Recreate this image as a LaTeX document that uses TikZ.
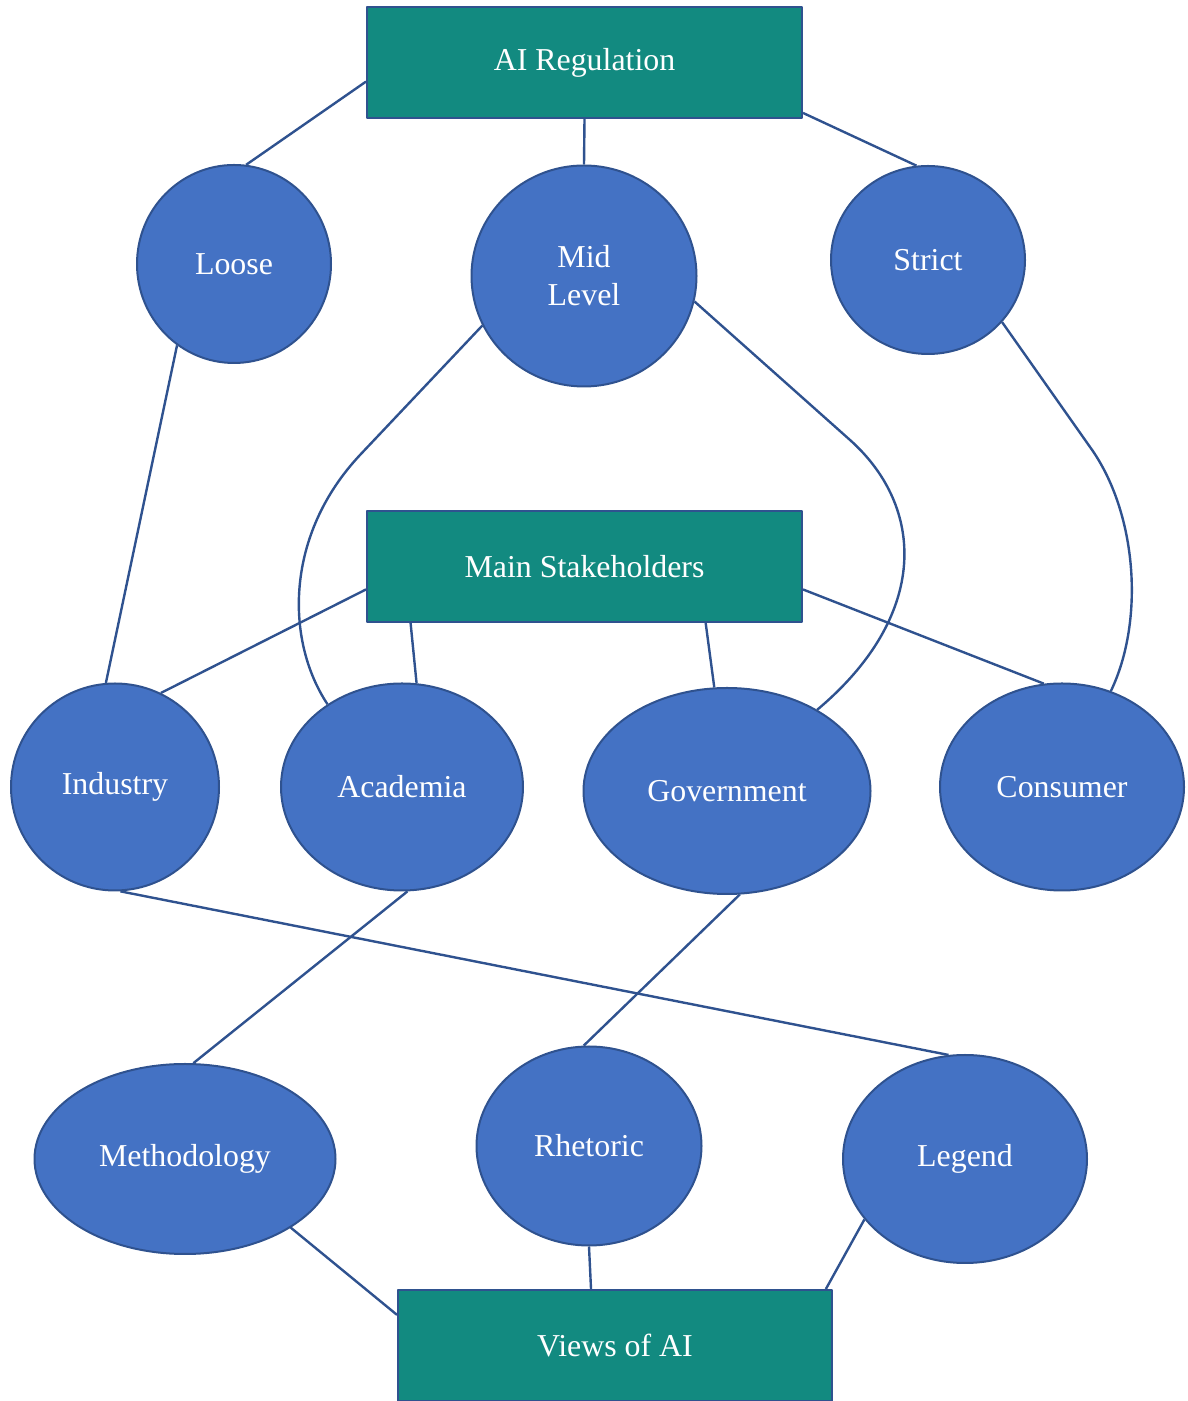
\documentclass[tikz,border=0pt]{standalone}
\usepackage{fontspec}
\setmainfont{Liberation Serif}
\usepackage{tikz}
\usetikzlibrary{shapes.geometric}
\definecolor{tealbox}{RGB}{18,138,128}
\definecolor{bluefill}{RGB}{68,114,196}
\definecolor{blueline}{RGB}{47,82,143}
\begin{document}
\begin{tikzpicture}[line join=round,
  headbox/.style={rectangle,fill=tealbox,draw=blueline,line width=1bp,inner sep=0pt,
    minimum width=217.5bp,minimum height=55.5bp,text=white,font=\fontsize{16}{19}\selectfont},
  topic/.style={ellipse,fill=bluefill,draw=blueline,line width=1bp,inner sep=0pt,
    text=white,align=center,font=\fontsize{16}{19}\selectfont},
  link/.style={blueline,line width=1.2bp}]
%%
\useasboundingbox (0bp,0bp) rectangle (594bp,700.5bp);
\node (node_reg) at (292.25bp,669.25bp) [headbox] {AI Regulation};
  \node (node_stake) at (292.25bp,417.25bp) [headbox] {Main Stakeholders};
  \node (node_views) at (307.5bp,27.75bp) [headbox,minimum width=217bp] {Views of AI};
  \node (node_loose) at (117bp,568.5bp) [topic,minimum width=97bp,minimum height=99bp] {Loose};
  \node (node_mid) at (292bp,562.5bp) [topic,minimum width=112.5bp,minimum height=110.5bp] {Mid\\Level};
  \node (node_strict) at (464bp,570.5bp) [topic,minimum width=97bp,minimum height=94bp] {Strict};
  \node (node_industry) at (57.5bp,307bp) [topic,minimum width=104bp,minimum height=103.5bp] {Industry};
  \node (node_academia) at (201bp,307bp) [topic,minimum width=121bp,minimum height=103.5bp] {Academia};
  \node (node_gov) at (363.5bp,305bp) [topic,minimum width=143.5bp,minimum height=103bp] {Government};
  \node (node_consumer) at (531bp,307bp) [topic,minimum width=122bp,minimum height=103.5bp] {Consumer};
  \node (node_method) at (92.5bp,121bp) [topic,minimum width=150.5bp,minimum height=95bp] {Methodology};
  \node (node_rhetoric) at (294.5bp,127.5bp) [topic,minimum width=112.5bp,minimum height=99.5bp] {Rhetoric};
  \node (node_legend) at (482.5bp,121bp) [topic,minimum width=122bp,minimum height=104bp] {Legend};
  \draw [link] (node_reg.185.9) -- (node_loose.83);
  \draw [link] (node_reg.south) -- (node_mid.north);
  \draw [link] (node_reg.347) -- (node_strict.97);
  \draw [link] (node_loose.235) -- (node_industry.95);
  \draw [link] (node_mid.206) -- (180bp,473bp) ..controls (142.5bp,433bp) and (142.5bp,380.5bp)  .. (node_academia.132);
  \draw [link] (node_mid.347) -- (425bp,480.5bp) ..controls (462.5bp,447bp) and (465bp,393bp)  .. (node_gov.42);
  \draw [link] (node_strict.320) -- (545bp,477bp) ..controls (568.5bp,444.5bp) and (572.5bp,390.5bp)  .. (node_consumer.63);
  \draw [link] (node_stake.186.2) -- (node_industry.64.7);
  \draw [link] (node_stake.198.1) -- (node_academia.82.9);
  \draw [link] (node_stake.335.8) -- (node_gov.97.2);
  \draw [link] (node_stake.354.4) -- (node_consumer.100.5);
  \draw [link] (node_industry.273) -- (node_legend.99.8);
  \draw [link] (node_academia.273) -- (node_method.85);
  \draw [link] (node_gov.277.6) -- (node_rhetoric.93.4);
  \draw [link] (node_method.327.8) -- (node_views.172.8);
  \draw [link] (node_rhetoric.south) -- (node_views.113.4);
  \draw [link] (node_legend.211.1) -- (node_views.15.4);
%
\end{tikzpicture}
\end{document}
